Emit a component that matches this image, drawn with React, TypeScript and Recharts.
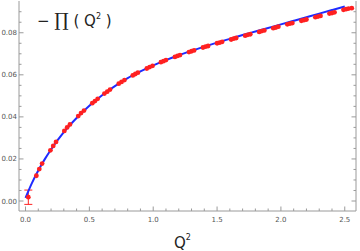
import React from "react";
import {
  ComposedChart,
  Line,
  Scatter,
  ErrorBar,
  XAxis,
  YAxis,
} from "recharts";

// fitted curve (blue)
const curveQ2 = [0, 0.05, 0.1, 0.15, 0.2, 0.25, 0.3, 0.4, 0.5, 0.6, 0.7, 0.8, 0.9, 1.0, 1.1, 1.2, 1.3, 1.4, 1.5, 1.6, 1.7, 1.8, 1.9, 2.0, 2.1, 2.2, 2.3, 2.4, 2.5];
const curveVal = [0.0015, 0.0085, 0.0145, 0.0198, 0.0245, 0.0288, 0.0328, 0.0395, 0.0453, 0.0503, 0.0546, 0.0584, 0.0616, 0.0645, 0.067, 0.0693, 0.0714, 0.0734, 0.0753, 0.0771, 0.0789, 0.0806, 0.0823, 0.084, 0.0857, 0.0874, 0.0891, 0.0908, 0.0925];

// lattice points (red)
const pointQ2 = [
  0.022, 0.085, 0.108, 0.13, 0.195, 0.217, 0.239, 0.304, 0.326, 0.348, 0.413, 0.435, 0.458,
  0.523, 0.544, 0.565, 0.618, 0.64, 0.662, 0.73, 0.752, 0.775, 0.84, 0.86, 0.88, 0.95, 0.972,
  0.995, 1.06, 1.08, 1.1, 1.17, 1.19, 1.21, 1.28, 1.3, 1.32, 1.39, 1.41, 1.43, 1.5, 1.52, 1.54,
  1.61, 1.63, 1.65, 1.72, 1.74, 1.76, 1.83, 1.85, 1.87, 1.94, 1.96, 1.98, 2.05, 2.07, 2.09,
  2.16, 2.18, 2.2, 2.27, 2.29, 2.31, 2.38, 2.4, 2.42, 2.49, 2.51, 2.53, 2.555,
];
const pointVal = [
  0.0018, 0.012, 0.0152, 0.0178, 0.0241, 0.0262, 0.0281, 0.0333, 0.035, 0.0364, 0.0404, 0.0418, 0.043,
  0.0465, 0.0475, 0.0486, 0.0511, 0.052, 0.053, 0.0558, 0.0566, 0.0575, 0.0597, 0.0604, 0.061, 0.063, 0.0637,
  0.0643, 0.066, 0.0665, 0.067, 0.0685, 0.069, 0.0694, 0.0708, 0.0712, 0.0716, 0.073, 0.0734, 0.0737, 0.075, 0.0753, 0.0757,
  0.0768, 0.0772, 0.0775, 0.0786, 0.079, 0.0793, 0.0804, 0.0808, 0.0811, 0.0822, 0.0825, 0.0829, 0.084, 0.0843, 0.0846,
  0.0857, 0.086, 0.0863, 0.0874, 0.0877, 0.088, 0.0891, 0.0894, 0.0897, 0.0909, 0.0912, 0.0915, 0.0917,
];
// only the lowest point has a visible error bar
const pointErr = [0.0034, ...pointQ2.slice(1).map(() => 0)];

const xMajor = [0, 0.5, 1, 1.5, 2, 2.5];
const xMinor = [0.1, 0.2, 0.3, 0.4, 0.6, 0.7, 0.8, 0.9, 1.1, 1.2, 1.3, 1.4, 1.6, 1.7, 1.8, 1.9, 2.1, 2.2, 2.3, 2.4];
const yMajor = [0, 0.02, 0.04, 0.06, 0.08];
const yMinor = [0.005, 0.01, 0.015, 0.025, 0.03, 0.035, 0.045, 0.05, 0.055, 0.065, 0.07, 0.075, 0.085, 0.09];

const curveData = curveQ2.map((q, i) => ({ q, v: curveVal[i] }));
const pointData = pointQ2.map((q, i) => ({ q, v: pointVal[i], err: pointErr[i] }));

const frame = "#9a9a9a";
const labelColor = "#555";
const tickFont = "'DejaVu Sans', sans-serif";
const red = "#ff2020";

const isMajor = (list: number[], v: number) => list.some((m) => Math.abs(m - v) < 1e-9);

function makeTick(side: "bottom" | "top" | "left" | "right") {
  return (props: any) => {
    const { x, y, payload } = props;
    const v = payload.value as number;
    const major = side === "bottom" || side === "top" ? isMajor(xMajor, v) : isMajor(yMajor, v);
    const len = major ? 4.5 : 2.5;
    if (side === "bottom") {
      return (
        <g>
          <line x1={x} y1={y} x2={x} y2={y - len} stroke={frame} strokeWidth={1} />
          {major && (
            <text x={x} y={y + 11} textAnchor="middle" fontSize={7} fill={labelColor} fontFamily={tickFont}>
              {v.toFixed(1)}
            </text>
          )}
        </g>
      );
    }
    if (side === "top") {
      return <line x1={x} y1={y} x2={x} y2={y + len} stroke={frame} strokeWidth={1} />;
    }
    if (side === "left") {
      return (
        <g>
          <line x1={x} y1={y} x2={x + len} y2={y} stroke={frame} strokeWidth={1} />
          {major && (
            <text x={x - 2} y={y + 2.5} textAnchor="end" fontSize={7} fill={labelColor} fontFamily={tickFont}>
              {v.toFixed(2)}
            </text>
          )}
        </g>
      );
    }
    return <line x1={x} y1={y} x2={x - len} y2={y} stroke={frame} strokeWidth={1} />;
  };
}

const Dot = (props: any) => {
  const { cx, cy } = props;
  return <circle cx={cx} cy={cy} r={2.4} fill={red} />;
};

export default function App() {
  const xTicks = [...xMajor, ...xMinor].sort((a, b) => a - b);
  const yTicks = [...yMajor, ...yMinor].sort((a, b) => a - b);
  const xDomain = [-0.051, 2.588];
  const yDomain = [-0.00475, 0.0951];
  const withErr = pointData.filter((p) => p.err > 0);
  const noErr = pointData.filter((p) => !(p.err > 0));
  return (
    <div style={{ position: "fixed", left: 0, top: 0, width: 360, height: 251, background: "#fff" }}>
      <ComposedChart width={360} height={251} margin={{ top: 1, right: 0, bottom: 0, left: 0 }}>
        <XAxis
          xAxisId="b"
          type="number"
          dataKey="q"
          domain={xDomain}
          ticks={xTicks}
          allowDataOverflow
          height={40}
          tickSize={0}
          tickMargin={0}
          tickLine={false}
          axisLine={{ stroke: frame }}
          tick={makeTick("bottom")}
          interval={0}
        />
        <XAxis
          xAxisId="t"
          orientation="top"
          type="number"
          dataKey="q"
          domain={xDomain}
          ticks={xTicks}
          allowDataOverflow
          height={0}
          tickSize={0}
          tickMargin={0}
          tickLine={false}
          axisLine={{ stroke: frame }}
          tick={makeTick("top")}
          interval={0}
        />
        <YAxis
          yAxisId="l"
          type="number"
          domain={yDomain}
          ticks={yTicks}
          allowDataOverflow
          width={19}
          tickSize={0}
          tickMargin={0}
          tickLine={false}
          axisLine={{ stroke: frame }}
          tick={makeTick("left")}
          interval={0}
        />
        <YAxis
          yAxisId="r"
          orientation="right"
          type="number"
          domain={yDomain}
          ticks={yTicks}
          allowDataOverflow
          width={4}
          tickSize={0}
          tickMargin={0}
          tickLine={false}
          axisLine={{ stroke: frame }}
          tick={makeTick("right")}
          interval={0}
        />
        <Scatter
          xAxisId="b"
          yAxisId="l"
          data={noErr}
          dataKey="v"
          shape={Dot}
          isAnimationActive={false}
        />
        <Scatter
          xAxisId="b"
          yAxisId="l"
          data={withErr}
          dataKey="v"
          shape={Dot}
          isAnimationActive={false}
        >
          <ErrorBar dataKey="err" direction="y" width={4} stroke={red} strokeWidth={1} isAnimationActive={false} />
        </Scatter>
        <Line
          xAxisId="b"
          yAxisId="l"
          data={curveData}
          dataKey="v"
          type="monotone"
          stroke="#1f2bff"
          strokeWidth={2}
          dot={false}
          isAnimationActive={false}
        />
      </ComposedChart>
      <svg width={360} height={251} style={{ position: "absolute", left: 0, top: 0, pointerEvents: "none" }}>
        <text x={37} y={26} fontSize={15} fill="#222" fontFamily="'DejaVu Sans', sans-serif">
          {"\u2212 "}
          <tspan fontSize={18} fontFamily="'DejaVu Serif', serif">{"\u220F"}</tspan>
          {" ( Q"}
          <tspan dy={-7} fontSize={8}>2</tspan>
          <tspan dy={7}> )</tspan>
        </text>
        <text x={174} y={248} fontSize={15} fill="#222" fontFamily="'DejaVu Sans', sans-serif">
          Q<tspan dy={-8} fontSize={8}>2</tspan>
        </text>
      </svg>
    </div>
  );
}
